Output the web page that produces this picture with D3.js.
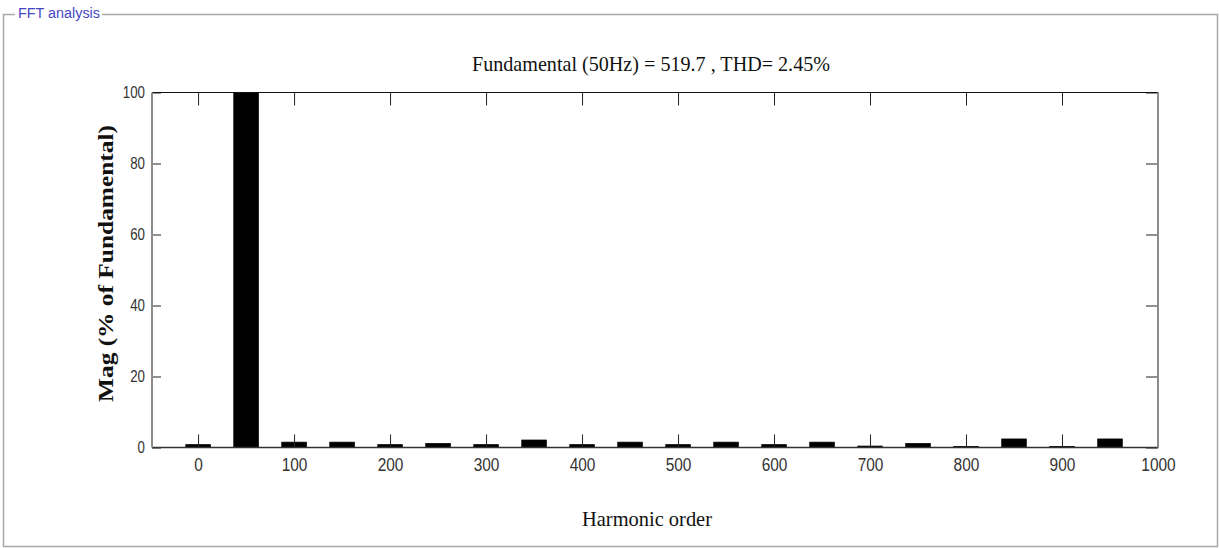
<!DOCTYPE html>
<html>
<head>
<meta charset="utf-8">
<script src="https://cdn.jsdelivr.net/npm/d3@7"></script>
<style>
  html, body { margin: 0; padding: 0; background: #fff; }
  svg { display: block; }
  .tick text { font-family: "Liberation Sans Narrow", "Liberation Sans", Arial, sans-serif; fill: #333; }
</style>
</head>
<body>
<svg id="chart" width="1220" height="548"></svg>
<script>
// Harmonic spectrum: frequency (Hz) of each bar and magnitude in % of fundamental
const freqs = [0, 50, 100, 150, 200, 250, 300, 350, 400, 450, 500, 550, 600, 650, 700, 750, 800, 850, 900, 950];
const mags  = [0.8, 100, 1.5, 1.5, 0.8, 1.1, 0.8, 2.1, 0.8, 1.5, 0.8, 1.5, 0.8, 1.5, 0.4, 1.1, 0.3, 2.4, 0.3, 2.4];
const xTicks = [0, 100, 200, 300, 400, 500, 600, 700, 800, 900, 1000];
const yTicks = [0, 20, 40, 60, 80, 100];
const titleText = "Fundamental (50Hz) = 519.7 , THD= 2.45%";
const xLabel = "Harmonic order";
const yLabel = "Mag (% of Fundamental)";
const panelLabel = "FFT analysis";

const svg = d3.select("#chart");

// Group box around the analysis panel
const boxColor = "#a9a9a9";
const box = svg.append("g").attr("fill", "none").attr("stroke", boxColor);
box.append("path").attr("d", "M15,14.5 H3.5 V546.5 H1217.5 V14.5 H102").attr("stroke-width", 1.5);
svg.append("text")
  .attr("x", 18).attr("y", 18)
  .attr("font-family", "'Liberation Sans Narrow', 'Liberation Sans', Arial, sans-serif")
  .attr("font-size", 14)
  .attr("fill", "#4646c4")
  .attr("textLength", 82).attr("lengthAdjust", "spacingAndGlyphs")
  .text(panelLabel);

// Scales
const x = d3.scaleLinear().domain([-48, 1000]).range([152, 1158]);
const y = d3.scaleLinear().domain([0, 100]).range([447.5, 92.5]);
const barHalf = 12.8; // half bar width in Hz
const fmt = d3.format("d");

// Bars
svg.append("g")
  .selectAll("rect")
  .data(freqs.map((f, i) => ({ f, m: mags[i] })))
  .join("rect")
  .attr("x", d => x(d.f - barHalf))
  .attr("width", d => x(d.f + barHalf) - x(d.f - barHalf))
  .attr("y", d => y(d.m))
  .attr("height", d => y(0) - y(d.m))
  .attr("fill", "#000")
  .attr("stroke", "#000")
  .attr("stroke-width", 0.8);

// Axes (ticks point inward, MATLAB style)
const axBottom = svg.append("g")
  .attr("transform", `translate(0,${y(0)})`)
  .call(d3.axisBottom(x).tickValues(xTicks).tickFormat(fmt).tickSize(-13).tickSizeOuter(0).tickPadding(10.5));
axBottom.selectAll(".tick text")
  .attr("font-size", 18)
  .attr("textLength", function () { return this.textContent.length * 8.6; })
  .attr("lengthAdjust", "spacingAndGlyphs");

const axTop = svg.append("g")
  .attr("transform", `translate(0,${y(100)})`)
  .call(d3.axisTop(x).tickValues(xTicks).tickSize(-13).tickSizeOuter(0).tickFormat(""));

const axLeft = svg.append("g")
  .attr("transform", `translate(${x.range()[0]},0)`)
  .call(d3.axisLeft(y).tickValues(yTicks).tickFormat(fmt).tickSize(-9).tickSizeOuter(0).tickPadding(7));
axLeft.selectAll(".tick text")
  .attr("font-size", 16)
  .attr("textLength", function () { return this.textContent.length * 7.4; })
  .attr("lengthAdjust", "spacingAndGlyphs");

const axRight = svg.append("g")
  .attr("transform", `translate(${x.range()[1]},0)`)
  .call(d3.axisRight(y).tickValues(yTicks).tickSize(-12).tickSizeOuter(0).tickFormat(""));

[axBottom, axTop, axLeft, axRight].forEach(a => {
  a.select(".domain").remove();
  a.selectAll(".tick line").attr("stroke", "#222").attr("stroke-width", 1);
});

// Plot frame
const [x0, x1] = x.range();
const [yb, yt] = y.range();
svg.append("line").attr("x1", x0).attr("x2", x1).attr("y1", yt).attr("y2", yt).attr("stroke", "#111").attr("stroke-width", 1.2);
svg.append("line").attr("x1", x0).attr("x2", x1).attr("y1", yb).attr("y2", yb).attr("stroke", "#333").attr("stroke-width", 1.4);
svg.append("line").attr("x1", x0).attr("x2", x0).attr("y1", yt).attr("y2", yb).attr("stroke", "#8c8c8c").attr("stroke-width", 2);
svg.append("line").attr("x1", x1).attr("x2", x1).attr("y1", yt).attr("y2", yb).attr("stroke", "#8c8c8c").attr("stroke-width", 2);

// Title and axis labels
svg.append("text")
  .attr("x", 651).attr("y", 71)
  .attr("text-anchor", "middle")
  .attr("font-family", "'Liberation Serif', 'Times New Roman', serif")
  .attr("font-size", 21).attr("fill", "#111")
  .attr("textLength", 358).attr("lengthAdjust", "spacingAndGlyphs")
  .text(titleText);

svg.append("text")
  .attr("x", 647).attr("y", 526)
  .attr("text-anchor", "middle")
  .attr("font-family", "'Liberation Serif', 'Times New Roman', serif")
  .attr("font-size", 22).attr("fill", "#111")
  .attr("textLength", 130).attr("lengthAdjust", "spacingAndGlyphs")
  .text(xLabel);

svg.append("text")
  .attr("transform", "translate(113,263.5) rotate(-90)")
  .attr("text-anchor", "middle")
  .attr("font-family", "'Liberation Serif', 'Times New Roman', serif")
  .attr("font-weight", "bold")
  .attr("font-size", 20).attr("fill", "#111")
  .attr("textLength", 277).attr("lengthAdjust", "spacingAndGlyphs")
  .text(yLabel);
</script>
</body>
</html>
